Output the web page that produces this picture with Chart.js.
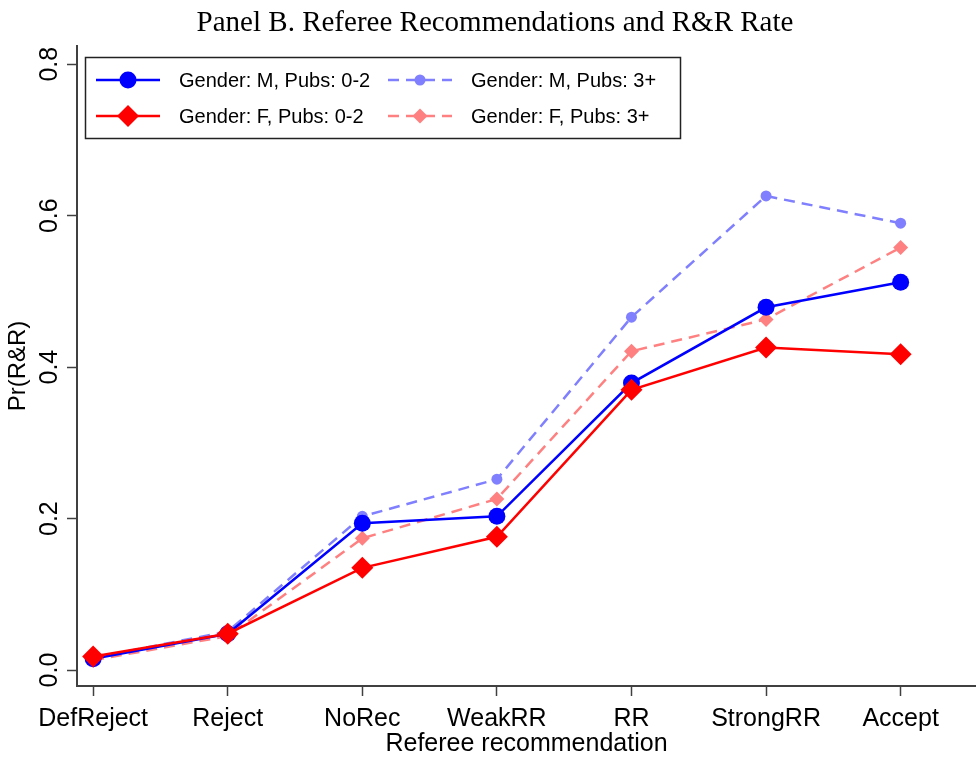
<!DOCTYPE html>
<html>
<head>
<meta charset="utf-8">
<script src="https://cdn.jsdelivr.net/npm/chart.js@4"></script>
<style>
  html, body { margin: 0; padding: 0; background: #fff; }
  #wrap { width: 976px; height: 757px; }
</style>
</head>
<body>
<div id="wrap"><canvas id="myChart" width="976" height="757"></canvas></div>
<script>
const categories = ['DefReject', 'Reject', 'NoRec', 'WeakRR', 'RR', 'StrongRR', 'Accept'];
const yTicks = [0, 0.2, 0.4, 0.6, 0.8];

const seriesNames = ['Gender: M, Pubs: 0-2', 'Gender: M, Pubs: 3+', 'Gender: F, Pubs: 0-2', 'Gender: F, Pubs: 3+'];
const male02 = [0.015, 0.048, 0.194, 0.203, 0.379, 0.479, 0.512];
const male3p = [0.016, 0.051, 0.203, 0.252, 0.466, 0.626, 0.590];
const fem02 = [0.018, 0.048, 0.135, 0.176, 0.370, 0.426, 0.417];
const fem3p = [0.013, 0.045, 0.174, 0.226, 0.421, 0.463, 0.558];

const toPoints = (vals) => vals.map((v, i) => ({ x: i, y: v }));

const sansFont = "'Liberation Sans', Arial, sans-serif";
const axisColor = '#404040';

const data = {
  datasets: [
    {
      label: seriesNames[0],
      data: toPoints(male02),
      borderColor: '#0000ff',
      backgroundColor: '#0000ff',
      borderWidth: 2.5,
      pointStyle: 'circle',
      pointRadius: 8.5,
      pointBorderWidth: 0,
      order: 2,
    },
    {
      label: seriesNames[1],
      data: toPoints(male3p),
      borderColor: '#8080ff',
      backgroundColor: '#8080ff',
      borderWidth: 2.5,
      borderDash: [11, 7],
      pointStyle: 'circle',
      pointRadius: 5.5,
      pointBorderWidth: 0,
      order: 4,
    },
    {
      label: seriesNames[2],
      data: toPoints(fem02),
      borderColor: '#ff0000',
      backgroundColor: '#ff0000',
      borderWidth: 2.5,
      pointStyle: 'rectRot',
      pointRadius: 11,
      pointBorderWidth: 0,
      order: 1,
    },
    {
      label: seriesNames[3],
      data: toPoints(fem3p),
      borderColor: '#ff8080',
      backgroundColor: '#ff8080',
      borderWidth: 2.5,
      borderDash: [11, 7],
      pointStyle: 'rectRot',
      pointRadius: 7.5,
      pointBorderWidth: 0,
      order: 3,
    },
  ],
};

// title and boxed legend, stata style
const extras = {
  id: 'extras',
  afterDraw(chart) {
    const ctx = chart.ctx;
    ctx.save();
    ctx.fillStyle = '#000';
    ctx.font = "29px 'Liberation Serif', 'Times New Roman', serif";
    ctx.textAlign = 'center';
    ctx.textBaseline = 'middle';
    ctx.fillText('Panel B. Referee Recommendations and R&R Rate', 495, 23);

    // legend box
    ctx.strokeStyle = '#222';
    ctx.lineWidth = 1.5;
    ctx.strokeRect(85.5, 57.5, 595, 81);

    const slots = [[96, 80], [388, 80], [96, 116], [388, 116]];
    slots.forEach(([x0, y0], di) => {
      const ds = chart.data.datasets[di];
      ctx.strokeStyle = ds.borderColor;
      ctx.lineWidth = ds.borderWidth;
      ctx.setLineDash(ds.borderDash || []);
      ctx.beginPath();
      ctx.moveTo(x0, y0);
      ctx.lineTo(x0 + 64, y0);
      ctx.stroke();
      ctx.setLineDash([]);
      ctx.fillStyle = ds.backgroundColor;
      Chart.helpers.drawPoint(ctx, {
        pointStyle: ds.pointStyle,
        radius: ds.pointRadius,
        rotation: 0,
        borderWidth: 0,
      }, x0 + 32, y0);
      ctx.fillStyle = '#000';
      ctx.font = '20px ' + sansFont;
      ctx.textAlign = 'left';
      ctx.fillText(ds.label, x0 + 83, y0 + 1);
    });
    ctx.restore();
  },
};

const config = {
  type: 'line',
  data,
  options: {
    responsive: false,
    animation: false,
    layout: { autoPadding: false, padding: { top: 46, right: 0, left: 0, bottom: 0 } },
    plugins: {
      legend: { display: false },
      title: { display: false },
      tooltip: { enabled: false },
    },
    scales: {
      x: {
        type: 'linear',
        min: -0.12,
        max: 6.56,
        afterBuildTicks: (scale) => {
          scale.ticks = categories.map((_, i) => ({ value: i }));
        },
        afterFit: (scale) => {
          scale.height = 71;
          scale.paddingLeft = 0;
          scale.paddingRight = 0;
        },
        grid: {
          display: true,
          drawOnChartArea: false,
          tickLength: 10,
          tickWidth: 1.5,
          tickColor: axisColor,
        },
        border: { display: true, color: axisColor, width: 2 },
        ticks: {
          color: '#000',
          font: { family: sansFont, size: 25 },
          padding: 8,
          maxRotation: 0,
          autoSkip: false,
          callback: (v) => categories[v],
        },
        title: {
          display: true,
          text: 'Referee recommendation',
          color: '#000',
          font: { family: sansFont, size: 25 },
          padding: { top: 0, bottom: -2 },
        },
      },
      y: {
        type: 'linear',
        min: -0.021,
        max: 0.824,
        afterBuildTicks: (scale) => {
          scale.ticks = yTicks.map((v) => ({ value: v }));
        },
        afterFit: (scale) => {
          scale.width = 77;
          scale.paddingTop = 0;
          scale.paddingBottom = 0;
        },
        grid: {
          display: true,
          drawOnChartArea: false,
          tickLength: 10,
          tickWidth: 1.5,
          tickColor: axisColor,
        },
        border: { display: true, color: axisColor, width: 2 },
        ticks: {
          color: '#000',
          font: { family: sansFont, size: 25 },
          padding: 0,
          minRotation: 90,
          maxRotation: 90,
          crossAlign: 'center',
          callback: (v) => v.toFixed(1),
        },
        title: {
          display: true,
          text: 'Pr(R&R)',
          color: '#000',
          font: { family: sansFont, size: 24 },
          padding: { top: 4, bottom: 0 },
        },
      },
    },
  },
  plugins: [extras],
};

const ctx = document.getElementById('myChart').getContext('2d');
const myChart = new Chart(ctx, config);
</script>
</body>
</html>
